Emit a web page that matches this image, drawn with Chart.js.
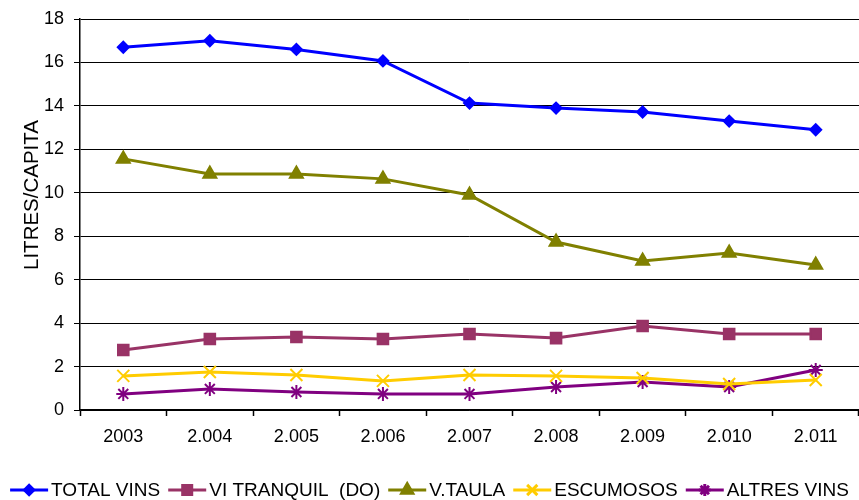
<!DOCTYPE html>
<html>
<head>
<meta charset="utf-8">
<script src="https://cdn.jsdelivr.net/npm/chart.js@4/dist/chart.umd.min.js"></script>
<style>
  html, body { margin: 0; padding: 0; background: #fff; }
  #wrap { width: 859px; height: 500px; }
</style>
</head>
<body>
<div id="wrap"><canvas id="wine-chart"></canvas></div>
<script>
// categories and series
const years = ['2003', '2.004', '2.005', '2.006', '2.007', '2.008', '2.009', '2.010', '2.011'];
const totalVins = [16.7, 17.0, 16.6, 16.07, 14.13, 13.9, 13.72, 13.3, 12.9];
const viTranquil = [2.76, 3.27, 3.36, 3.27, 3.5, 3.31, 3.87, 3.5, 3.5];
const vTaula = [11.56, 10.87, 10.87, 10.64, 9.9, 7.73, 6.86, 7.23, 6.68];
const escumosos = [1.57, 1.75, 1.61, 1.34, 1.61, 1.57, 1.47, 1.2, 1.38];
const altresVins = [0.74, 0.97, 0.83, 0.74, 0.74, 1.06, 1.29, 1.06, 1.84];
const yTitle = 'LITRES/CAPITA';

const FONT = "'Liberation Sans', Arial, sans-serif";

function series(label, data, color, style, radius) {
  return {
    label: label,
    data: data,
    borderColor: color,
    backgroundColor: color,
    borderWidth: 3,
    pointStyle: style,
    pointRadius: radius,
    pointBorderWidth: 2,
    pointBackgroundColor: color,
    pointBorderColor: color,
    tension: 0
  };
}

const datasets = [
  series('TOTAL VINS', totalVins, '#0000ff', 'rectRot', 5.5),
  series('VI TRANQUIL  (DO)', viTranquil, '#993366', 'rect', 7.5),
  series('V.TAULA', vTaula, '#808000', 'triangle', 7.5),
  series('ESCUMOSOS', escumosos, '#ffcc00', 'crossRot', 8.5),
  series('ALTRES VINS', altresVins, '#800080', 'star', 7)
];

// bottom legend: line + marker swatch, then the label
const lineLegend = {
  id: 'lineLegend',
  afterDraw(chart) {
    const ctx = chart.ctx;
    const sw = 38, gapText = 3, gapItem = 8, y = 490;
    ctx.save();
    ctx.font = '19px ' + FONT;
    const items = chart.data.datasets.map(ds => ({ ds, w: ctx.measureText(ds.label).width }));
    const total = items.reduce((a, it) => a + sw + gapText + it.w, 0) + gapItem * (items.length - 1);
    let x = (chart.width - total) / 2;
    items.forEach(({ ds, w }) => {
      ctx.strokeStyle = ds.borderColor;
      ctx.lineWidth = 3;
      ctx.beginPath();
      ctx.moveTo(x, y); ctx.lineTo(x + sw, y);
      ctx.stroke();
      ctx.fillStyle = ds.borderColor;
      Chart.helpers.drawPoint(ctx, {
        pointStyle: ds.pointStyle, radius: ds.pointRadius * 0.85, borderWidth: 2, rotation: 0
      }, x + sw / 2, y);
      ctx.fillStyle = '#000';
      ctx.textBaseline = 'middle';
      ctx.textAlign = 'left';
      ctx.fillText(ds.label, x + sw + gapText, y + 1);
      x += sw + gapText + w + gapItem;
    });
    ctx.restore();
  }
};

// rotated axis title, placed like the reference (a bit above the plot middle)
const axisTitle = {
  id: 'axisTitle',
  afterDraw(chart) {
    const ctx = chart.ctx;
    ctx.save();
    ctx.translate(32, 195);
    ctx.rotate(-Math.PI / 2);
    ctx.font = '20.5px ' + FONT;
    ctx.fillStyle = '#000';
    ctx.textAlign = 'center';
    ctx.textBaseline = 'middle';
    ctx.fillText(yTitle, 0, 0);
    ctx.restore();
  }
};

new Chart(document.getElementById('wine-chart'), {
  type: 'line',
  data: { labels: years, datasets: datasets },
  plugins: [lineLegend, axisTitle],
  options: {
    responsive: true,
    maintainAspectRatio: false,
    animation: false,
    devicePixelRatio: 1,
    layout: { autoPadding: false, padding: { top: 19, right: 0, left: 0, bottom: 40 } },
    plugins: {
      tooltip: { enabled: false },
      legend: { display: false }
    },
    scales: {
      x: {
        offset: true,
        afterFit: (s) => { s.height = 50; s.paddingLeft = 0; s.paddingRight = 0; },
        grid: { offset: true, drawOnChartArea: false, color: '#000', tickLength: 6, tickWidth: 1.5 },
        border: { color: '#000', width: 1.5 },
        ticks: { color: '#000', font: { family: FONT, size: 18 }, padding: 10, maxRotation: 0 }
      },
      y: {
        min: 0,
        max: 18,
        afterFit: (s) => { s.width = 80; s.paddingTop = 0; s.paddingBottom = 0; },
        grid: { color: '#000', lineWidth: 1, tickLength: 6 },
        border: { color: '#000', width: 1.5 },
        ticks: { stepSize: 2, color: '#000', font: { family: FONT, size: 18 }, padding: 10 }
      }
    }
  }
});
</script>
</body>
</html>
